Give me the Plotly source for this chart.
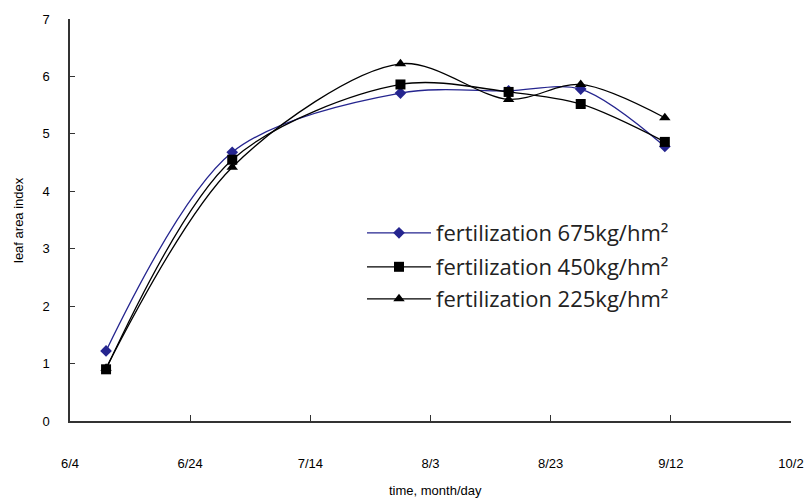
import plotly.graph_objects as go
from datetime import date

# ---- data ----
dates = ["6/10", "7/1", "7/29", "8/16", "8/28", "9/11"]
lai_675 = [1.22, 4.68, 5.71, 5.75, 5.78, 4.78]
lai_450 = [0.90, 4.55, 5.86, 5.73, 5.52, 4.86]
lai_225 = [0.92, 4.42, 6.22, 5.60, 5.86, 5.28]
series_names = ["fertilization 675kg/hm²", "fertilization 450kg/hm²", "fertilization 225kg/hm²"]
tick_labels = ["6/4", "6/24", "7/14", "8/3", "8/23", "9/12", "10/2"]
y_ticks = [0, 1, 2, 3, 4, 5, 6, 7]

start = date(2000, 6, 4)

def to_day(s):
    m, d = s.split("/")
    return (date(2000, int(m), int(d)) - start).days

xs = [to_day(s) for s in dates]
tick_vals = [to_day(s) for s in tick_labels]

fig = go.Figure()
styles = [
    dict(color="#25258f", symbol="diamond", size=9, legend="legend"),
    dict(color="#000000", symbol="square", size=10, legend="legend2"),
    dict(color="#000000", symbol="triangle-up", size=10, legend="legend3"),
]
for name, ys, st in zip(series_names, [lai_675, lai_450, lai_225], styles):
    fig.add_trace(go.Scatter(
        x=xs, y=ys, name=name, mode="lines+markers", legend=st["legend"],
        line=dict(color=st["color"], width=1.3, shape="spline", smoothing=0.9),
        marker=dict(color=st["color"], symbol=st["symbol"], size=st["size"]),
    ))

legend_font = dict(family="Open Sans, sans-serif", size=22, color="#222")
def leg(yc):
    return dict(x=(362 - 70) / 721, y=yc, xanchor="left", yanchor="middle",
                bgcolor="rgba(0,0,0,0)", itemwidth=64, font=legend_font)

fig.update_layout(
    width=810, height=502,
    margin=dict(l=70, r=19, t=19, b=81),
    paper_bgcolor="white", plot_bgcolor="white",
    font=dict(family="Liberation Sans, Arial, sans-serif", size=13, color="black"),
    legend=leg((421 - 233) / 402), legend2=leg((421 - 267) / 402), legend3=leg((421 - 299) / 402),
    showlegend=True,
    annotations=[
        dict(text="leaf area index", xref="paper", yref="paper",
             x=(18 - 70) / 721, y=0.5, textangle=-90, showarrow=False,
             font=dict(size=13), xanchor="center", yanchor="middle"),
        dict(text="time, month/day", xref="paper", yref="paper",
             x=(435 - 70) / 721, y=(421 - 490) / 402, showarrow=False,
             font=dict(size=13), xanchor="center", yanchor="middle"),
    ],
)
fig.update_xaxes(
    range=[0, 120], tickvals=tick_vals, ticktext=tick_labels,
    showline=True, linecolor="#333", linewidth=1.5, mirror=False,
    ticks="inside", ticklen=6, tickcolor="#333", tickwidth=1.3,
    showgrid=False, zeroline=False, automargin=False,
    ticklabelstandoff=30,
)
fig.update_yaxes(
    range=[0, 7], tickvals=y_ticks,
    showline=True, linecolor="#333", linewidth=1.5,
    ticks="inside", ticklen=5, tickcolor="#333", tickwidth=1.3,
    showgrid=False, zeroline=False, automargin=False,
    ticklabelstandoff=16,
)

fig.write_html("out.html", config={"displayModeBar": False},
               post_script="document.body.style.margin='0px';")
